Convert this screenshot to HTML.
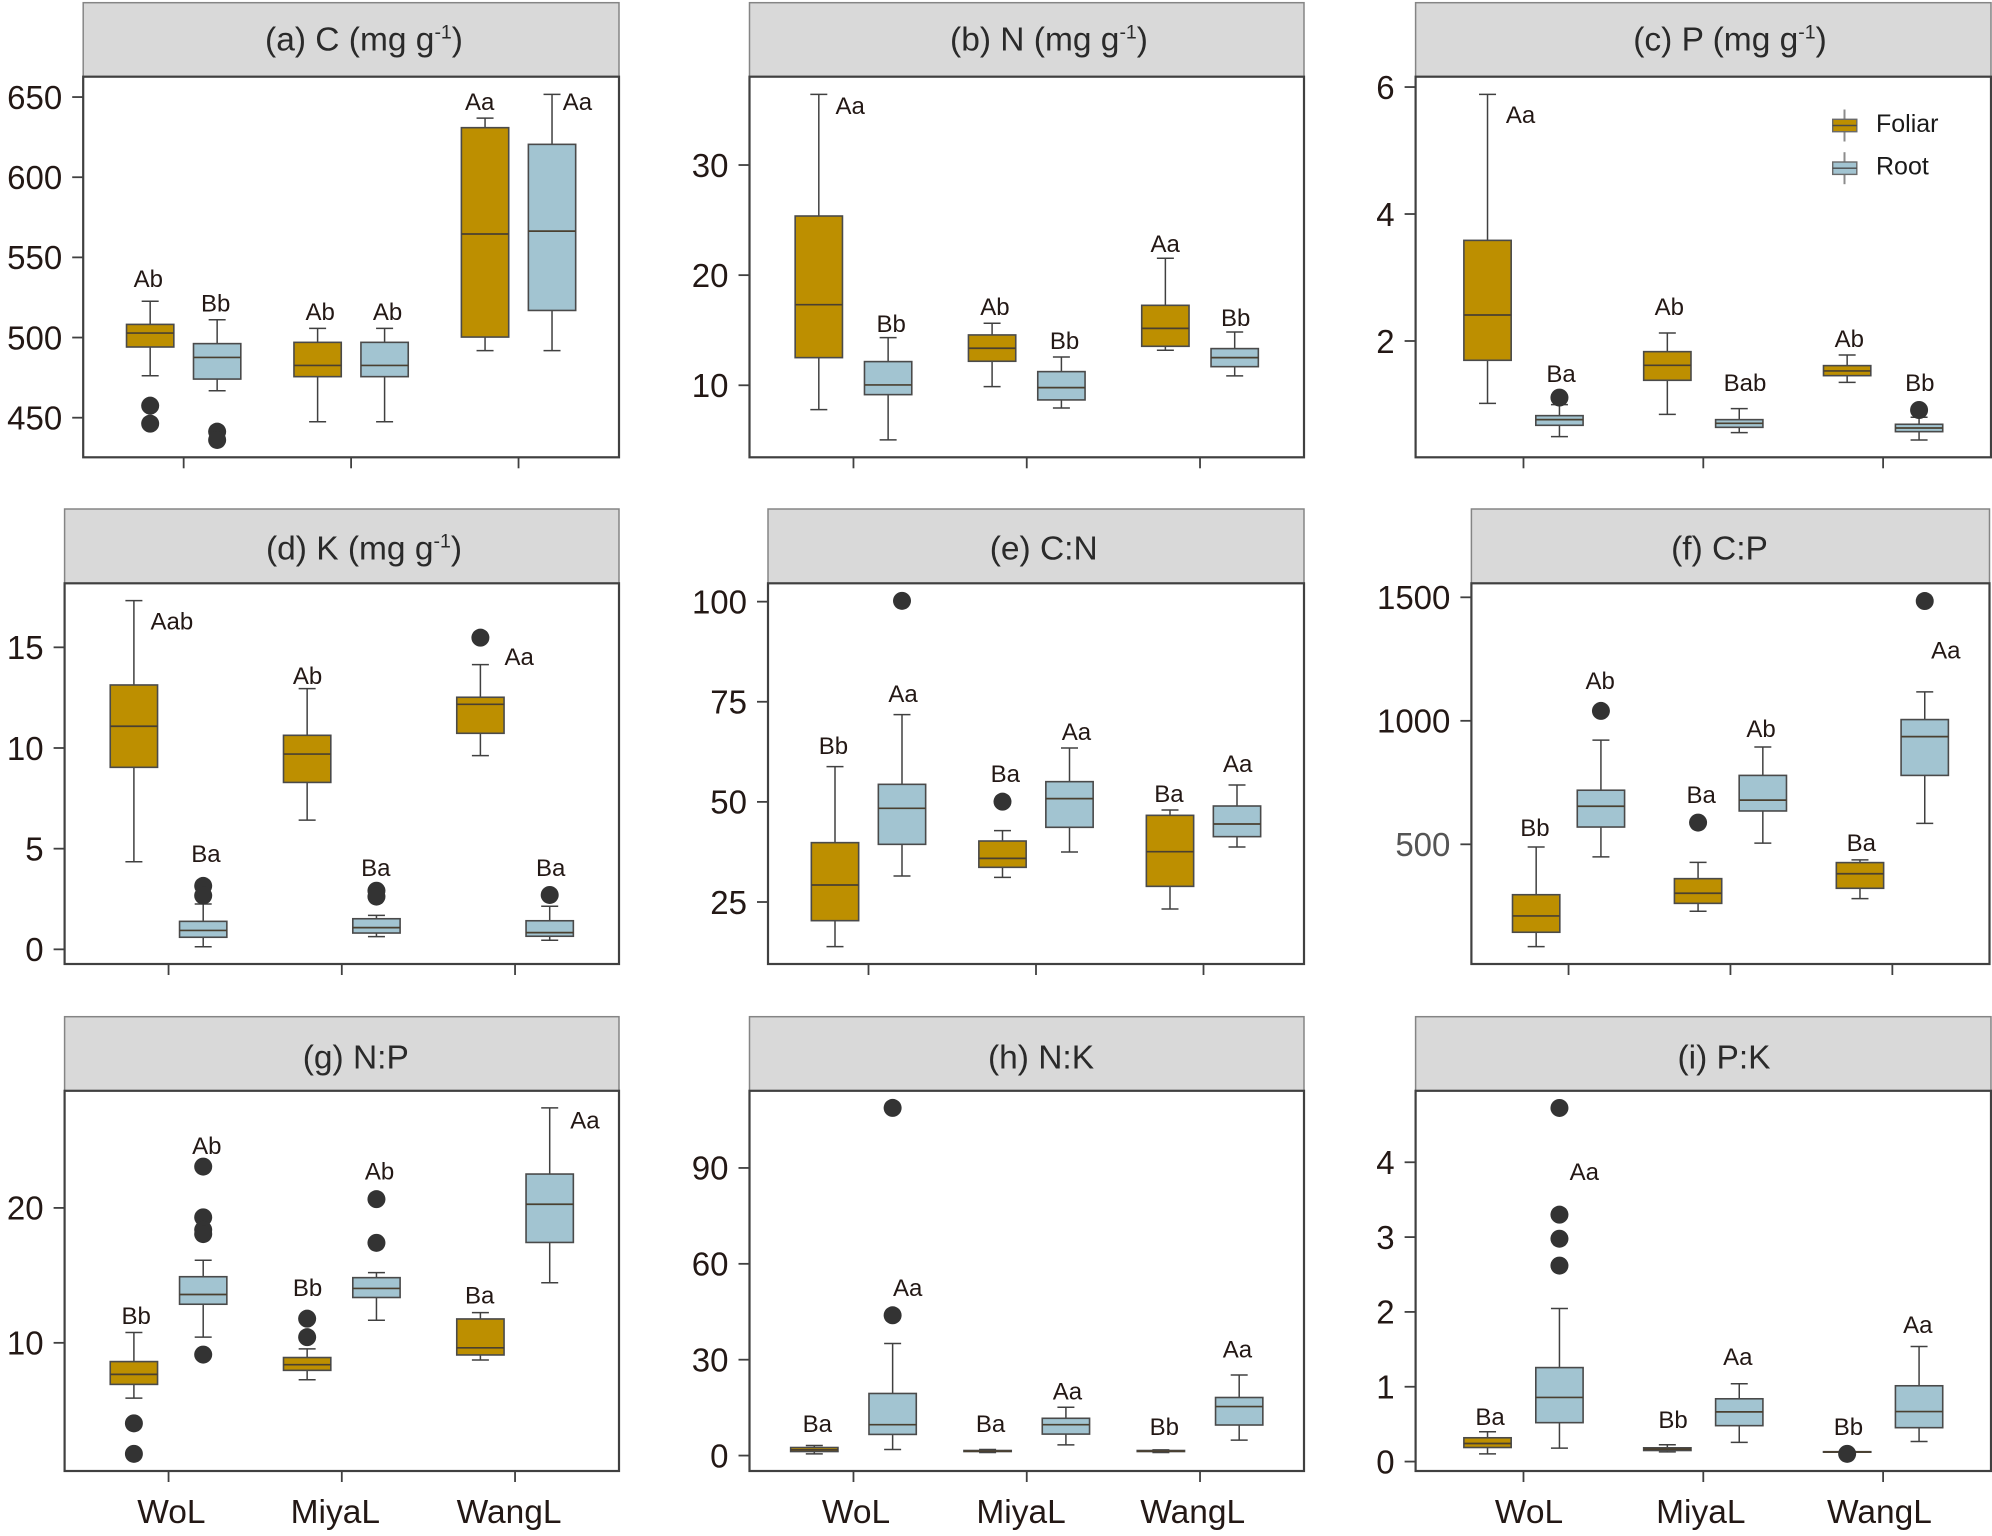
<!DOCTYPE html>
<html lang="en">
<head>
<meta charset="utf-8">
<title>Boxplots of C, N, P, K and ratios</title>
<style>
html,body{margin:0;padding:0;background:#fff;}
svg{display:block;font-family:"Liberation Sans",sans-serif;}
</style>
</head>
<body>
<svg id="chart" xmlns="http://www.w3.org/2000/svg" width="1992" height="1536" viewBox="0 0 1992 1536"></svg>
<script>
const categories = ['WoL', 'MiyaL', 'WangL'];
const seriesNames = ['Foliar', 'Root'];

/* Each box is [upper whisker, Q3, median, Q1, lower whisker]; one per category. */
const aTicks = [450, 500, 550, 600, 650];
const aFoliar = [[522.6, 508.2, 502.8, 494.1, 476.2], [505.7, 497, 482.6, 475.6, 447.5], [636.9, 630.9, 564.6, 500.3, 491.8]];
const aRoot = [[511.1, 496.2, 487.6, 474.1, 466.8], [505.7, 497, 482.6, 475.6, 447.5], [651.7, 620.5, 566.4, 516.9, 491.8]];
const aFoliarOutliers = [[457.5, 446.3], [], []];
const aRootOutliers = [[441.3, 436.1], [], []];
const aLetters = ['Ab', 'Bb', 'Ab', 'Ab', 'Aa', 'Aa'];
const aLetterX = [0.789, 1.191, 1.815, 2.218, 2.768, 3.352];
const aLetterY = [536.7, 521.7, 516.1, 516.1, 647.1, 647.1];

const bTicks = [10, 20, 30];
const bFoliar = [[36.41, 25.37, 17.32, 12.51, 7.79], [15.63, 14.57, 13.36, 12.18, 9.88], [21.53, 17.26, 15.17, 13.54, 13.18]];
const bRoot = [[14.33, 12.15, 10.03, 9.15, 5.04], [12.57, 11.24, 9.79, 8.67, 7.94], [14.84, 13.33, 12.51, 11.69, 10.85]];
const bFoliarOutliers = [[], [], []];
const bRootOutliers = [[], [], []];
const bLetters = ['Aa', 'Bb', 'Ab', 'Bb', 'Aa', 'Bb'];
const bLetterX = [0.981, 1.218, 1.816, 2.218, 2.799, 3.206];
const bLetterY = [35.42, 15.63, 17.14, 14.05, 22.89, 16.14];

const cTicks = [2, 4, 6];
const cFoliar = [[5.885, 3.585, 2.409, 1.696, 1.018], [2.126, 1.832, 1.617, 1.381, 0.845], [1.78, 1.612, 1.528, 1.454, 1.349]];
const cRoot = [[0.997, 0.824, 0.761, 0.672, 0.493], [0.934, 0.761, 0.703, 0.64, 0.556], [0.798, 0.688, 0.63, 0.572, 0.441]];
const cFoliarOutliers = [[], [], []];
const cRootOutliers = [[1.108], [], [0.913]];
const cLetters = ['Aa', 'Ba', 'Ab', 'Bab', 'Ab', 'Bb'];
const cLetterX = [0.984, 1.209, 1.811, 2.232, 2.812, 3.204];
const cLetterY = [5.57, 1.491, 2.541, 1.344, 2.037, 1.349];

const dTicks = [0, 5, 10, 15];
const dFoliar = [[17.32, 13.13, 11.08, 9.04, 4.35], [12.95, 10.63, 9.7, 8.29, 6.42], [14.14, 12.52, 12.17, 10.73, 9.62]];
const dRoot = [[2.25, 1.39, 0.94, 0.6, 0.13], [1.69, 1.52, 1.08, 0.81, 0.63], [2.14, 1.42, 0.83, 0.65, 0.45]];
const dFoliarOutliers = [[], [], [15.48]];
const dRootOutliers = [[3.15, 2.67], [2.91, 2.62], [2.7]];
const dLetters = ['Aab', 'Ba', 'Ab', 'Ba', 'Aa', 'Ba'];
const dLetterX = [1.019, 1.216, 1.802, 2.196, 3.024, 3.206];
const dLetterY = [16.32, 4.77, 13.59, 4.06, 14.55, 4.06];

const eTicks = [25, 50, 75, 100];
const eFoliar = [[58.8, 39.82, 29.25, 20.34, 13.85], [42.81, 40.23, 35.9, 33.66, 31.16], [47.97, 46.64, 37.57, 28.91, 23.25]];
const eRoot = [[71.78, 54.38, 48.39, 39.4, 31.49], [63.46, 55.05, 50.81, 43.65, 37.49], [54.22, 48.97, 44.48, 41.32, 38.74]];
const eFoliarOutliers = [[], [50.06], []];
const eRootOutliers = [[100.2], [], []];
const eLetters = ['Bb', 'Aa', 'Ba', 'Aa', 'Ba', 'Aa'];
const eLetterX = [0.791, 1.206, 1.817, 2.241, 2.794, 3.204];
const eLetterY = [64.04, 77.11, 57.13, 67.54, 52.14, 59.63];

const fTicks = [500, 1000, 1500];
const fFoliar = [[489, 296, 210, 144, 86], [427, 361, 302, 261, 229], [437, 426, 381, 322, 280]];
const fRoot = [[922, 719, 654, 570, 449], [894, 779, 679, 635, 505], [1117, 1005, 936, 779, 585]];
const fFoliarOutliers = [[], [588], []];
const fRootOutliers = [[1040], [], [1485]];
const fLetters = ['Bb', 'Ab', 'Ba', 'Ab', 'Ba', 'Aa'];
const fLetterX = [0.792, 1.195, 1.819, 2.189, 2.808, 3.33];
const fLetterY = [569, 1164, 702, 968, 508, 1287];

const gTicks = [10, 20];
const gFoliar = [[10.77, 8.61, 7.66, 6.92, 5.9], [9.55, 8.91, 8.38, 7.96, 7.26], [12.24, 11.77, 9.63, 9.1, 8.73]];
const gRoot = [[16.12, 14.9, 13.58, 12.86, 10.42], [15.2, 14.83, 14.03, 13.36, 11.67], [27.41, 22.51, 20.27, 17.44, 14.45]];
const gFoliarOutliers = [[4.03, 1.77], [11.79, 10.42], []];
const gRootOutliers = [[23.06, 19.3, 18.38, 18.06, 9.13], [20.65, 17.41], []];
const gLetters = ['Bb', 'Ab', 'Bb', 'Ab', 'Ba', 'Aa'];
const gLetterX = [0.813, 1.221, 1.802, 2.218, 2.796, 3.403];
const gLetterY = [12.04, 24.63, 14.1, 22.74, 13.53, 26.52];

const hTicks = [0, 30, 60, 90];
const hFoliar = [[3.15, 2.52, 1.79, 1.26, 0.53], [1.89, 1.58, 1.37, 1.26, 0.95], [1.79, 1.58, 1.37, 1.26, 0.95]];
const hRoot = [[35.07, 19.43, 9.66, 6.62, 1.89], [15.12, 11.66, 9.66, 6.72, 3.36], [25.2, 18.17, 15.33, 9.56, 4.83]];
const hFoliarOutliers = [[], [], []];
const hRootOutliers = [[108.79, 43.89], [], []];
const hLetters = ['Ba', 'Aa', 'Ba', 'Aa', 'Bb', 'Aa'];
const hLetterX = [0.791, 1.313, 1.791, 2.235, 2.794, 3.216];
const hLetterY = [10.08, 52.61, 10.08, 20.27, 9.14, 33.29];

const iTicks = [0, 1, 2, 3, 4];
const iFoliar = [[0.399, 0.318, 0.242, 0.188, 0.103], [0.224, 0.184, 0.166, 0.148, 0.13], [0.135, 0.132, 0.13, 0.128, 0.125]];
const iRoot = [[2.045, 1.256, 0.857, 0.52, 0.179], [1.04, 0.839, 0.664, 0.48, 0.256], [1.538, 1.013, 0.668, 0.453, 0.269]];
const iFoliarOutliers = [[], [], [0.103]];
const iRootOutliers = [[4.726, 3.3, 2.978, 2.619], [], []];
const iLetters = ['Ba', 'Aa', 'Bb', 'Aa', 'Bb', 'Aa'];
const iLetterX = [0.814, 1.338, 1.832, 2.192, 2.807, 3.193];
const iLetterY = [0.601, 3.874, 0.565, 1.404, 0.471, 1.834];

const ROW_TOP = [2.7, 509, 1016.7];
const ROW_HEAD = [76.7, 583.3, 1090.8];
const ROW_BOTTOM = [457.3, 964, 1471];
const ROW_TITLE_BASE = [50.7, 559.6, 1068.3];
const FOLIAR_FILL = '#bd8f00';
const ROOT_FILL = '#a2c4d1';
const LINE = '#404040';
const INK = '#231815';
const BOX_W = 47.3;
const CAP_W = 17;
const DOT_R = 9;
const SVG_NS = 'http://www.w3.org/2000/svg';
const svg = document.getElementById('chart');

const panelConfigs = [
  {id: 'c', pre: '(a) C (mg g', sup: true, row: 0, left: 83.2, right: 619, titleX: 364, dMin: 425.3, dMax: 662.7, ticks: aTicks, foliar: aFoliar, root: aRoot, fo: aFoliarOutliers, ro: aRootOutliers, letters: aLetters, lx: aLetterX, ly: aLetterY},
  {id: 'n', pre: '(b) N (mg g', sup: true, row: 0, left: 749.5, right: 1304, titleX: 1049, dMin: 3.46, dMax: 38.02, ticks: bTicks, foliar: bFoliar, root: bRoot, fo: bFoliarOutliers, ro: bRootOutliers, letters: bLetters, lx: bLetterX, ly: bLetterY},
  {id: 'p', pre: '(c) P (mg g', sup: true, row: 0, left: 1415.6, right: 1991, titleX: 1730, dMin: 0.168, dMax: 6.163, ticks: cTicks, foliar: cFoliar, root: cRoot, fo: cFoliarOutliers, ro: cRootOutliers, letters: cLetters, lx: cLetterX, ly: cLetterY},
  {id: 'k', pre: '(d) K (mg g', sup: true, row: 1, left: 64.6, right: 619, titleX: 364, dMin: -0.728, dMax: 18.18, ticks: dTicks, foliar: dFoliar, root: dRoot, fo: dFoliarOutliers, ro: dRootOutliers, letters: dLetters, lx: dLetterX, ly: dLetterY},
  {id: 'c-n', pre: '(e) C:N', sup: false, row: 1, left: 768, right: 1304, titleX: 1043.7, dMin: 9.52, dMax: 104.58, ticks: eTicks, foliar: eFoliar, root: eRoot, fo: eFoliarOutliers, ro: eRootOutliers, letters: eLetters, lx: eLetterX, ly: eLetterY},
  {id: 'c-p', pre: '(f) C:P', sup: false, row: 1, left: 1471.4, right: 1989.5, titleX: 1719.5, dMin: 15.5, dMax: 1556.7, ticks: fTicks, foliar: fFoliar, root: fRoot, fo: fFoliarOutliers, ro: fRootOutliers, letters: fLetters, lx: fLetterX, ly: fLetterY, mutedTick: 500},
  {id: 'n-p', pre: '(g) N:P', sup: false, row: 2, left: 64.6, right: 619, titleX: 355.8, dMin: 0.5, dMax: 28.68, ticks: gTicks, foliar: gFoliar, root: gRoot, fo: gFoliarOutliers, ro: gRootOutliers, letters: gLetters, lx: gLetterX, ly: gLetterY, catNudge: [2.8, -6.5, -6]},
  {id: 'n-k', pre: '(h) N:K', sup: false, row: 2, left: 749.5, right: 1304, titleX: 1041, dMin: -4.83, dMax: 114.14, ticks: hTicks, foliar: hFoliar, root: hRoot, fo: hFoliarOutliers, ro: hRootOutliers, letters: hLetters, lx: hLetterX, ly: hLetterY, catNudge: [2.5, -5.7, -7.3], dodge: 0.226},
  {id: 'p-k', pre: '(i) P:K', sup: false, row: 2, left: 1415.6, right: 1991, titleX: 1724, dMin: -0.126, dMax: 4.955, ticks: iTicks, foliar: iFoliar, root: iRoot, fo: iFoliarOutliers, ro: iRootOutliers, letters: iLetters, lx: iLetterX, ly: iLetterY, catNudge: [5.5, -2.5, -3.7]}
];

function make(tag, parent, attrs) {
  const el = document.createElementNS(SVG_NS, tag);
  for (const k in attrs) el.setAttribute(k, attrs[k]);
  parent.appendChild(el);
  return el;
}
function seg(parent, x1, y1, x2, y2, stroke, width) {
  return make('line', parent, {x1: x1, y1: y1, x2: x2, y2: y2, stroke: stroke, 'stroke-width': width});
}
function num(v) { return Math.round(v * 100) / 100; }

function drawBox(group, cx, yScale, stats, fill, name) {
  const box = make('g', group, {});
  
  
  const yMax = yScale(stats[0]), yQ3 = yScale(stats[1]), yMed = yScale(stats[2]), yQ1 = yScale(stats[3]), yMin = yScale(stats[4]);
  const upper = seg(box, cx, yMax, cx, yQ3, LINE, 1.5);
  
  
  const lower = seg(box, cx, yQ1, cx, yMin, LINE, 1.5);
  
  
  const capTop = seg(box, cx - CAP_W / 2, yMax, cx + CAP_W / 2, yMax, LINE, 1.5);
  
  
  const capLow = seg(box, cx - CAP_W / 2, yMin, cx + CAP_W / 2, yMin, LINE, 1.5);
  
  
  const rect = make('rect', box, {x: cx - BOX_W / 2, y: yQ3, width: BOX_W, height: Math.max(yQ1 - yQ3, 0.5), fill: fill, stroke: '#4a4a4a', 'stroke-width': 1.6});
  
  
  const med = seg(box, cx - BOX_W / 2, yMed, cx + BOX_W / 2, yMed, '#4a4030', 1.7);
  
  
}

function drawPanel(cfg) {
  const top = ROW_TOP[cfg.row], head = ROW_HEAD[cfg.row], bottom = ROW_BOTTOM[cfg.row];
  const left = cfg.left, right = cfg.right;
  const step = (right - left) / 3.2;
  const dodge = cfg.dodge || 0.2;
  const catX = function (u) { return left + (u - 1 + 0.6) * step; };
  const yScale = function (v) { return bottom - (v - cfg.dMin) / (cfg.dMax - cfg.dMin) * (bottom - head); };

  const g = make('g', svg, {});
  
  

  const strip = make('rect', g, {x: left, y: top, width: right - left, height: head - top, fill: '#d9d9d9', stroke: '#858585', 'stroke-width': 1.5});
  
  

  const title = make('text', g, {x: cfg.titleX, y: ROW_TITLE_BASE[cfg.row], 'text-anchor': 'middle', 'font-size': 33.5, fill: '#2a2a2a'});
  
  
  const t1 = make('tspan', title, {});
  t1.textContent = cfg.pre;
  if (cfg.sup) {
    const t2 = make('tspan', title, {dy: -12, 'font-size': 19.5});
    t2.textContent = '-1';
    const t3 = make('tspan', title, {dy: 12});
    t3.textContent = ')';
  }

  const frame = make('rect', g, {x: left, y: head, width: right - left, height: bottom - head, fill: '#ffffff', stroke: LINE, 'stroke-width': 2.2});
  
  

  cfg.ticks.forEach(function (t) {
    const y = yScale(t);
    const tick = seg(g, left - 11, y, left, y, LINE, 1.8);
    
    
    const lab = make('text', g, {x: left - 21, y: y + 11.8, 'text-anchor': 'end', 'font-size': 33, fill: t === cfg.mutedTick ? '#555555' : INK});
    lab.textContent = String(t);
    
    
  });

  categories.forEach(function (name, i) {
    const x = catX(i + 1);
    const tick = seg(g, x, bottom, x, bottom + 11, LINE, 1.8);
    
    
    if (cfg.catNudge) {
      const lab = make('text', g, {x: x + cfg.catNudge[i], y: 1511.5 + 11.7, 'text-anchor': 'middle', 'font-size': 33.5, fill: INK});
      lab.textContent = name;
      
      
    }
    const fx = catX(i + 1 - dodge), rx = catX(i + 1 + dodge);
    drawBox(g, fx, yScale, cfg.foliar[i], FOLIAR_FILL, 'box-' + cfg.id + '-' + name + '-foliar');
    drawBox(g, rx, yScale, cfg.root[i], ROOT_FILL, 'box-' + cfg.id + '-' + name + '-root');
    cfg.fo[i].forEach(function (v) {
      const dot = make('circle', g, {cx: num(fx), cy: num(yScale(v)), r: DOT_R, fill: '#333333'});
      
      
    });
    cfg.ro[i].forEach(function (v) {
      const dot = make('circle', g, {cx: num(rx), cy: num(yScale(v)), r: DOT_R, fill: '#333333'});
      
      
    });
  });

  cfg.letters.forEach(function (txt, i) {
    const lab = make('text', g, {x: num(catX(cfg.lx[i])), y: num(yScale(cfg.ly[i]) + 8.5), 'text-anchor': 'middle', 'font-size': 24, fill: INK});
    lab.textContent = txt;
    
    
  });
}

panelConfigs.forEach(drawPanel);

/* Legend inside panel (c) */
const legend = make('g', svg, {});


seriesNames.forEach(function (name, i) {
  const y = 125.5 + i * 42.7;
  const entry = make('g', legend, {});
  
  
  const stem = seg(entry, 1844.5, y - 16, 1844.5, y + 16, '#8c8c8c', 2);
  
  
  const key = make('rect', entry, {x: 1832.7, y: y - 6.2, width: 24.1, height: 12.4, fill: i === 0 ? FOLIAR_FILL : ROOT_FILL, stroke: '#6a6a6a', 'stroke-width': 1.4});
  
  
  const mid = seg(entry, 1832.7, y, 1856.8, y, '#4a4a4a', 1.4);
  
  
  const lab = make('text', entry, {x: 1876, y: y + 6.4, 'font-size': 25, fill: '#1a1a1a'});
  lab.textContent = name;
  
  
});
</script>
</body>
</html>
